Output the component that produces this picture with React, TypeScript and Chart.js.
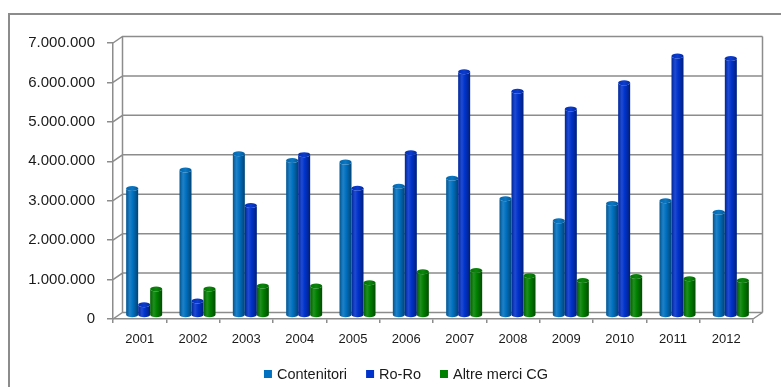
import React, { useEffect, useRef } from 'react';
import { Chart, registerables } from 'chart.js';

Chart.register(...registerables);

const years = ['2001', '2002', '2003', '2004', '2005', '2006', '2007', '2008', '2009', '2010', '2011', '2012'];
const contenitori = [3220000, 3690000, 4100000, 3930000, 3890000, 3280000, 3480000, 2960000, 2400000, 2840000, 2910000, 2620000];
const roRo = [270000, 370000, 2790000, 4080000, 3230000, 4130000, 6180000, 5690000, 5240000, 5900000, 6580000, 6520000];
const altreMerci = [670000, 670000, 750000, 750000, 830000, 1110000, 1140000, 1010000, 890000, 990000, 930000, 890000];
const seriesLabels = ['Contenitori', 'Ro-Ro', 'Altre merci CG'];
const seriesColors = ['#0070C0', '#0033CC', '#008000'];
const yMax = 7000000;
const yStep = 1000000;

const GRID = '#8c8c8c';
const WALL_DX = 9.5;
const WALL_DY = 6.5;
const BAR_DX = 4.5;
const BAR_DY = 3.5;
const FONT = "'Liberation Sans', Arial, sans-serif";

function fmt(v: number): string {
  return String(Math.round(v)).replace(/\B(?=(\d{3})+(?!\d))/g, '.');
}

function hexToRgb(hex: string): number[] {
  const h = hex.replace('#', '');
  return [parseInt(h.slice(0, 2), 16), parseInt(h.slice(2, 4), 16), parseInt(h.slice(4, 6), 16)];
}

function shade(hex: string, f: number): string {
  const [r, g, b] = hexToRgb(hex);
  const t = f < 0 ? 0 : 255;
  const p = Math.abs(f);
  const m = (c: number) => Math.round(c + (t - c) * p);
  return `rgb(${m(r)},${m(g)},${m(b)})`;
}

function drawCylinder(ctx: CanvasRenderingContext2D, x: number, top: number, base: number, w: number, color: string) {
  const l = x - w / 2;
  const r = x + w / 2;
  const ry = 2.5;
  if (base - top < 0.5) top = base - 0.5;
  const g = ctx.createLinearGradient(l, 0, r, 0);
  g.addColorStop(0, shade(color, -0.25));
  g.addColorStop(0.3, shade(color, 0.12));
  g.addColorStop(0.55, color);
  g.addColorStop(1, shade(color, -0.4));
  ctx.fillStyle = g;
  ctx.beginPath();
  ctx.moveTo(l, top);
  ctx.lineTo(l, base);
  ctx.ellipse(x, base, w / 2, ry, 0, Math.PI, 0, true);
  ctx.lineTo(r, top);
  ctx.ellipse(x, top, w / 2, ry, 0, 0, Math.PI, false);
  ctx.closePath();
  ctx.fill();
  const gc = ctx.createLinearGradient(l, 0, r, 0);
  gc.addColorStop(0, shade(color, -0.1));
  gc.addColorStop(0.5, shade(color, 0.05));
  gc.addColorStop(1, shade(color, -0.2));
  ctx.fillStyle = gc;
  ctx.beginPath();
  ctx.ellipse(x, top, w / 2, ry, 0, 0, Math.PI * 2);
  ctx.fill();
}

const frame3d = {
  id: 'frame3d',
  beforeDraw(chart: any) {
    const ctx = chart.ctx;
    ctx.save();
    ctx.strokeStyle = GRID;
    ctx.lineWidth = 2;
    ctx.strokeRect(9, 14, chart.width + 50, chart.height + 50);
    ctx.restore();
  },
  beforeDatasetsDraw(chart: any) {
    const ctx = chart.ctx;
    const { left, right, top, bottom } = chart.chartArea;
    const ys = chart.scales.y;
    ctx.save();
    ctx.strokeStyle = GRID;
    ctx.lineWidth = 1.5;
    ctx.beginPath();
    ys.ticks.forEach((t: any) => {
      const y = ys.getPixelForValue(t.value);
      ctx.moveTo(left, y);
      ctx.lineTo(left + WALL_DX, y - WALL_DY);
      ctx.lineTo(right + WALL_DX, y - WALL_DY);
    });
    ctx.moveTo(left + WALL_DX, top - WALL_DY);
    ctx.lineTo(left + WALL_DX, bottom - WALL_DY);
    ctx.moveTo(right + WALL_DX, top - WALL_DY);
    ctx.lineTo(right + WALL_DX, bottom - WALL_DY);
    ctx.moveTo(right, bottom);
    ctx.lineTo(right + WALL_DX, bottom - WALL_DY);
    ctx.stroke();
    ctx.restore();
  },
  beforeDatasetDraw() {
    return false;
  },
  afterDatasetsDraw(chart: any) {
    const ctx = chart.ctx;
    const metas = chart.data.datasets.map((_: any, i: number) => chart.getDatasetMeta(i));
    ctx.save();
    for (let j = 0; j < years.length; j++) {
      metas.forEach((meta: any, i: number) => {
        const el = meta.data[j];
        if (!el) return;
        drawCylinder(ctx, el.x + BAR_DX, el.y - BAR_DY, el.base - BAR_DY, el.width, seriesColors[i]);
      });
    }
    ctx.restore();
  },
  afterDraw(chart: any) {
    const ctx = chart.ctx;
    ctx.save();
    ctx.font = `14.5px ${FONT}`;
    ctx.textBaseline = 'middle';
    const box = 8;
    const gapText = 5;
    const gapItem = 19;
    const widths = seriesLabels.map((s) => ctx.measureText(s).width);
    const total = widths.reduce((a, b) => a + b, 0) + seriesLabels.length * (box + gapText) + gapItem * (seriesLabels.length - 1);
    const cx = 406;
    const cy = 374;
    let x = cx - total / 2;
    seriesLabels.forEach((s, i) => {
      ctx.fillStyle = seriesColors[i];
      ctx.fillRect(x, cy - box / 2, box, box);
      x += box + gapText;
      ctx.fillStyle = '#1a1a1a';
      ctx.fillText(s, x, cy + 0.5);
      x += widths[i] + gapItem;
    });
    ctx.restore();
  },
};

export default function App() {
  const ref = useRef<HTMLCanvasElement | null>(null);
  useEffect(() => {
    if (!ref.current) return;
    const chart = new Chart(ref.current, {
      type: 'bar',
      data: {
        labels: years,
        datasets: [
          { label: seriesLabels[0], data: contenitori, backgroundColor: seriesColors[0] },
          { label: seriesLabels[1], data: roRo, backgroundColor: seriesColors[1] },
          { label: seriesLabels[2], data: altreMerci, backgroundColor: seriesColors[2] },
        ],
      },
      options: {
        responsive: false,
        animation: false,
        events: [],
        layout: { padding: { left: 0, top: 43, right: 28, bottom: 0 } },
        datasets: { bar: { barPercentage: 1, categoryPercentage: 0.675 } },
        plugins: { legend: { display: false }, tooltip: { enabled: false } },
        scales: {
          x: {
            grid: { display: true, drawOnChartArea: false, drawTicks: true, tickLength: 4, color: GRID, lineWidth: 1.5, offset: true },
            border: { display: true, color: GRID, width: 1.5 },
            ticks: { color: '#1a1a1a', font: { family: FONT, size: 13 }, padding: 9, maxRotation: 0 },
            afterFit: (s: any) => { s.height = 68; },
          },
          y: {
            min: 0,
            max: yMax,
            grid: { display: true, drawOnChartArea: false, drawTicks: true, tickLength: 6, color: GRID, lineWidth: 1.5 },
            border: { display: true, color: GRID, width: 1.5 },
            ticks: { stepSize: yStep, color: '#1a1a1a', font: { family: FONT, size: 15 }, padding: 12, callback: (v: any) => fmt(Number(v)) },
            afterFit: (s: any) => { s.width = 113; },
          },
        },
      },
      plugins: [frame3d],
    });
    return () => chart.destroy();
  }, []);
  return (
    <div style={{ position: 'absolute', left: 0, top: 0, width: 781, height: 387 }}>
      <canvas ref={ref} width={781} height={387} style={{ display: 'block' }} />
    </div>
  );
}
